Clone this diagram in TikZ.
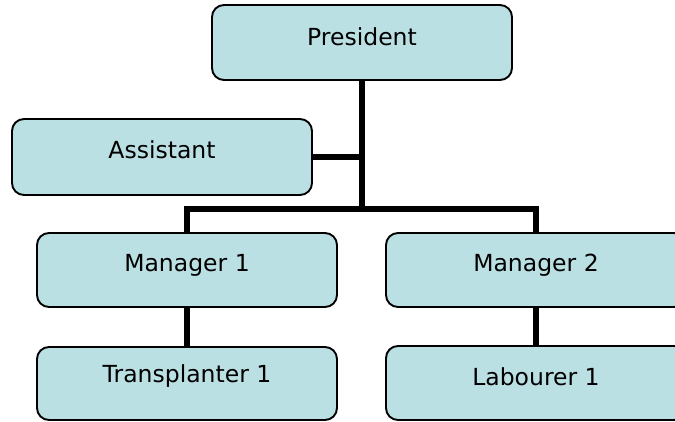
\documentclass[tikz,border=0pt]{standalone}
\usepackage{fontspec}
\setmainfont{DejaVu Sans}
\definecolor{boxfill}{HTML}{BBE0E3}
\begin{document}
\begin{tikzpicture}[x=1pt,y=-1pt,
  orgbox/.style={draw=black, line width=1.9pt, fill=boxfill, rounded corners=12pt,
    minimum width=300pt, inner sep=0pt, font=\fontsize{23.5}{28}\selectfont,
    text height=18pt, text depth=16pt, align=center},
  link/.style={draw=black, line width=6pt, line join=miter}]
\useasboundingbox (0,0) rectangle (675,421);
\clip (0,0) rectangle (675,421);
\node[orgbox, minimum height=75pt, text depth=13pt] (pres) at (362,42.5) {President};
\node[orgbox, minimum height=76pt, text depth=15.4pt] (asst) at (162,157) {Assistant};
\node[orgbox, minimum height=74pt] (m1) at (187,270) {Manager 1};
\node[orgbox, minimum height=74pt] (m2) at (536,270) {Manager 2};
\node[orgbox, minimum height=73pt, text depth=20pt] (t1) at (187,383.5) {Transplanter 1};
\node[orgbox, minimum height=74pt, text depth=12.6pt] (l1) at (536,383) {Labourer 1};
\coordinate (bar) at (0,208.5);
\path[link] (pres.south) -- (pres.south |- bar);
\path[link] (asst.east) -- (asst.east -| pres.south);
\path[link] (m1.north) -- (m1.north |- bar) -- (m2.north |- bar) -- (m2.north);
\path[link] (m1.south) -- (t1.north);
\path[link] (m2.south) -- (l1.north);
\end{tikzpicture}
\end{document}
